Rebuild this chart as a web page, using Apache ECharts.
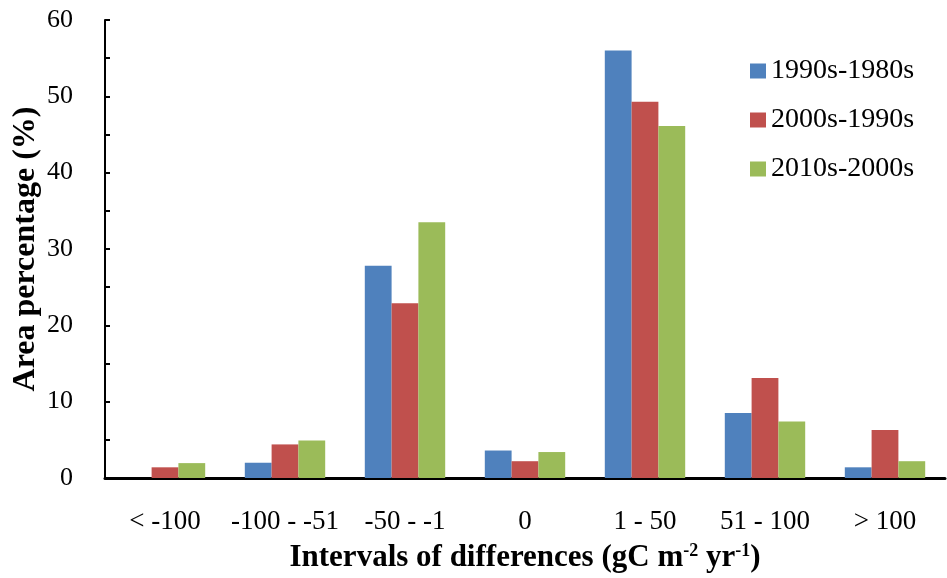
<!DOCTYPE html>
<html lang="en">
<head>
    <meta charset="UTF-8">
    <title>Area percentage</title>
    <script src="https://cdn.jsdelivr.net/npm/echarts@6/dist/echarts.min.js"></script>
    <style>
        body{margin:0;background:#fff;}
        #main{width:947px;height:578px;}
    </style>
</head>
<body>
<div id="main"></div>
<script>
    // categories and series values
    var categories=['< -100','-100 - -51','-50 - -1','0','1 - 50','51 - 100','> 100'];
    var names=['1990s-1980s','2000s-1990s','2010s-2000s'];
    var s1990=[0,2.0,27.8,3.6,56.0,8.5,1.4];
    var s2000=[1.4,4.4,22.9,2.2,49.3,13.1,6.3];
    var s2010=[1.95,4.9,33.5,3.4,46.1,7.4,2.2];
    var colors=['#4F81BD','#C0504D','#9BBB59'];

    var font='Liberation Serif';
    var myCharts=echarts.init(document.getElementById('main'));

    function bar(name,data,color){
        return {
            name:name,
            type:'bar',
            data:data,
            xAxisIndex:0,
            barGap:'0%',
            barCategoryGap:'33%',
            itemStyle:{color:color}
        };
    }

    var option={
        animation:false,
        textStyle:{fontFamily:font},
        legend:{
            orient:'vertical',
            left:745,
            top:52,
            itemWidth:16,
            itemHeight:15,
            itemGap:21,
            icon:'rect',
            textStyle:{fontFamily:font,fontSize:28,color:'#000'},
            data:names
        },
        grid:{
            left:105,
            right:2,
            top:20,
            bottom:100,
            containLabel:false,
            outerBoundsMode:'none'
        },
        xAxis:[{
            type:'category',
            data:categories,
            name:'Intervals of differences (gC m{s|-2} yr{s|-1})',
            nameLocation:'middle',
            nameGap:64,
            nameMoveOverlap:false,
            nameTextStyle:{
                fontFamily:font,fontSize:31,fontWeight:'bold',color:'#000',
                rich:{s:{fontFamily:font,fontSize:18,fontWeight:'bold',color:'#000',verticalAlign:'top',lineHeight:30}}
            },
            axisLine:{lineStyle:{color:'#000',width:3}},
            axisTick:{inside:true,length:6,lineStyle:{color:'#000',width:2}},
            axisLabel:{fontFamily:font,fontSize:27,color:'#000',margin:30,interval:0},
            splitLine:{show:false}
        },{
            type:'category',
            data:categories,
            position:'bottom',
            axisLine:{show:false},
            axisTick:{alignWithLabel:true,inside:true,length:4,lineStyle:{color:'#000',width:2}},
            axisLabel:{show:false},
            splitLine:{show:false}
        }],
        yAxis:{
            type:'value',
            min:0,
            max:60,
            interval:10,
            name:'Area percentage (%)',
            nameLocation:'middle',
            nameGap:63,
            nameMoveOverlap:false,
            nameTextStyle:{fontFamily:font,fontSize:32,fontWeight:'bold',color:'#000'},
            axisLine:{show:true,lineStyle:{color:'#000',width:2}},
            axisTick:{show:true,inside:true,length:5,lineStyle:{color:'#000',width:2}},
            minorTick:{show:true,splitNumber:2,length:5,lineStyle:{color:'#000',width:2}},
            axisLabel:{fontFamily:font,fontSize:26,color:'#000',margin:32},
            splitLine:{show:false}
        },
        series:[
            bar(names[0],s1990,colors[0]),
            bar(names[1],s2000,colors[1]),
            bar(names[2],s2010,colors[2])
        ]
    };
    myCharts.setOption(option);
</script>
</body>
</html>
